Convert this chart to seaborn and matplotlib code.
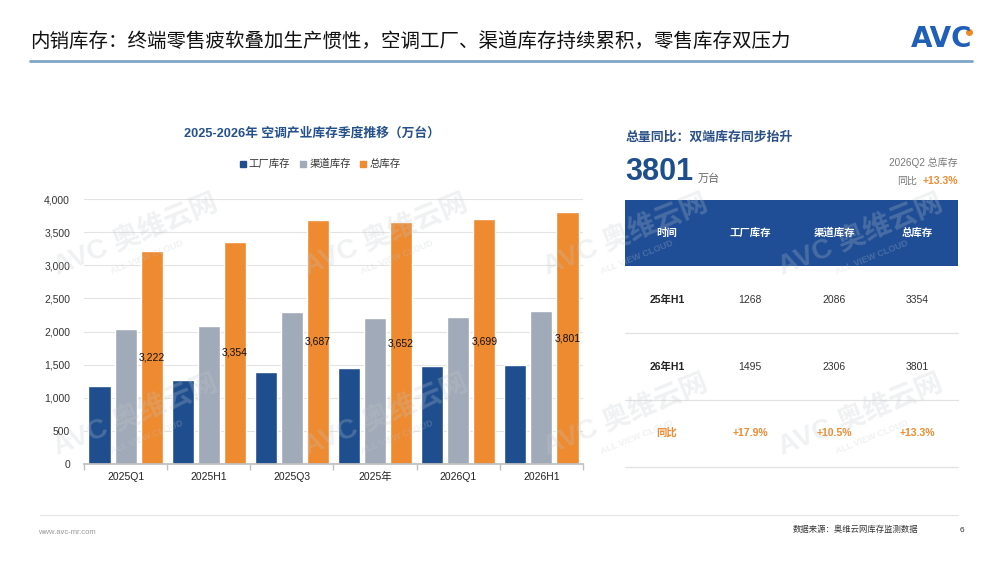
import numpy as np
import pandas as pd
import matplotlib
matplotlib.use('Agg')
import matplotlib.pyplot as plt
import seaborn as sns
from matplotlib.patches import Rectangle
from matplotlib.lines import Line2D

# ---- data ----
periods = ['2025Q1', '2025H1', '2025Q3', '2025年', '2026Q1', '2026H1']
factory = [1182, 1268, 1392, 1448, 1480, 1495]
channel = [2040, 2086, 2295, 2204, 2219, 2306]
total = [3222, 3354, 3687, 3652, 3699, 3801]
series = ['工厂库存', '渠道库存', '总库存']
colors = ['#1F4E8F', '#A1AAB8', '#EE8A2F']

table_cols = ['时间', '工厂库存', '渠道库存', '总库存']
row_names = ['25年H1', '26年H1']
h1_2025 = [1268, 2086, 3354]
h1_2026 = [1495, 2306, 3801]
yoy = [17.9, 10.5, 13.3]

df = pd.DataFrame({
    'period': periods * 3,
    'series': np.repeat(series, len(periods)),
    'value': factory + channel + total,
})

sns.set_theme(style='white')
plt.rcParams['font.family'] = ['Liberation Sans', 'Noto Sans CJK SC', 'DejaVu Sans']

fig = plt.figure(figsize=(10, 5.63), dpi=100)

# ---- bar chart ----
ax = fig.add_axes([0.084, 0.1758, 0.499, 0.4707])
sns.barplot(data=df, x='period', y='value', hue='series', palette=colors,
            width=0.94, gap=0.15, saturation=1, legend=False, ax=ax)
ax.set_ylim(0, 4000)
ax.set_xlim(-0.5, len(periods) - 0.5)
ax.set_yticks(np.arange(0, 4001, 500))
ax.set_yticklabels([f'{v:,}' for v in np.arange(0, 4001, 500)])
ax.set_xlabel('')
ax.set_ylabel('')
ax.yaxis.grid(True, color='#E3E3E3', lw=0.8)
ax.set_axisbelow(True)
for s in ['left', 'top', 'right']:
    ax.spines[s].set_visible(False)
ax.spines['bottom'].set_color('#BFBFBF')
ax.set_xticks(np.arange(-0.5, len(periods), 1), minor=True)
ax.tick_params(axis='x', which='major', length=0, labelsize=7.5, colors='#222222', pad=6)
ax.tick_params(axis='x', which='minor', length=4, color='#BFBFBF', bottom=True)
ax.tick_params(axis='y', length=0, labelsize=7.5, colors='#333333', pad=10)
ax.bar_label(ax.containers[2], labels=[f'{v:,}' for v in total],
             label_type='center', fontsize=7.5, color='#111111')

handles = [Line2D([], [], marker='s', linestyle='', color=c, markersize=4) for c in colors]
fig.legend(handles, series, loc='center', bbox_to_anchor=(0.32, 1 - 164 / 563), ncol=3,
           frameon=False, fontsize=7.5, handlelength=0.6, handletextpad=0.3,
           columnspacing=0.9, labelcolor='#333333')

# ---- overlay in pixel coordinates ----
ov = fig.add_axes([0, 0, 1, 1], zorder=5)
ov.set_xlim(0, 1000)
ov.set_ylim(563, 0)
ov.axis('off')
ov.patch.set_alpha(0)

ov.text(30, 41, '内销库存：终端零售疲软叠加生产惯性，空调工厂、渠道库存持续累积，零售库存双压力',
        fontsize=14, va='center', ha='left', color='#111111')
ov.plot([30, 972], [61, 61], color='#7FA6C6', lw=2)
ov.text(972, 39, 'AVC', fontsize=20, fontweight='bold', color='#1F5FB8',
        ha='right', va='center', family='DejaVu Sans')
ov.plot([969], [32], marker='o', color='#F08A24', markersize=4)

ov.text(312, 133, '2025-2026年 空调产业库存季度推移（万台）', fontsize=9.2,
        fontweight='bold', color='#24508C', ha='center', va='center')

# right panel
ov.text(626, 137, '总量同比：双端库存同步抬升', fontsize=9.3, color='#2B5087',
        ha='left', va='center', fontweight='bold')
ov.text(625, 172, f'{total[-1]}', fontsize=22, fontweight='bold', color='#1F4E8C',
        ha='left', va='center')
ov.text(698, 179, '万台', fontsize=8, color='#666666', ha='left', va='center')
ov.text(958, 163, '2026Q2 总库存', fontsize=7.2, color='#777777', ha='right', va='center')
ov.text(958, 181, f'+{yoy[-1]}%', fontsize=7.5, color='#EE8A2F', fontweight='bold',
        ha='right', va='center')
ov.text(917, 181, '同比', fontsize=7.2, color='#777777', ha='right', va='center')

ov.add_patch(Rectangle((625, 200), 333, 66, color='#1F4E96', lw=0))
col_x = [667, 750, 834, 917]
for x, name in zip(col_x, table_cols):
    ov.text(x, 233, name, fontsize=7.5, color='white', fontweight='bold',
            ha='center', va='center')

for y, name, vals in zip([300, 367], row_names, [h1_2025, h1_2026]):
    ov.text(col_x[0], y, name, fontsize=7.5, color='#222222', fontweight='bold',
            ha='center', va='center')
    for x, v in zip(col_x[1:], vals):
        ov.text(x, y, f'{v}', fontsize=7.5, color='#333333', ha='center', va='center')
ov.text(col_x[0], 433, '同比', fontsize=7.5, color='#EE8A2F', fontweight='bold',
        ha='center', va='center')
for x, v in zip(col_x[1:], yoy):
    ov.text(x, 433, f'+{v}%', fontsize=7.5, color='#EE8A2F', fontweight='bold',
            ha='center', va='center')
for y in [333, 400, 467]:
    ov.plot([625, 958], [y, y], color='#E2E2E2', lw=0.9)

# footer
ov.plot([40, 958], [515, 515], color='#E6E6E6', lw=0.9)
ov.text(38, 532, 'www.avc-mr.com', fontsize=5.5, color='#999999', ha='left', va='center')
ov.text(918, 530, '数据来源：奥维云网库存监测数据', fontsize=6, color='#333333',
        ha='right', va='center')
ov.text(962, 531, '6', fontsize=6, color='#333333', ha='center', va='center')

# watermarks
for wx in [135, 385, 625, 860]:
    for wy in [235, 415]:
        ov.text(wx, wy, 'AVC 奥维云网', fontsize=20, fontweight='bold', color='#C4C8CE',
                alpha=0.25, rotation=22, ha='center', va='center')
        ov.text(wx + 12, wy + 22, 'ALL VIEW CLOUD', fontsize=6.5, fontweight='bold',
                color='#C4C8CE', alpha=0.25, rotation=22, ha='center', va='center')

fig.savefig('out.png', dpi=100)
